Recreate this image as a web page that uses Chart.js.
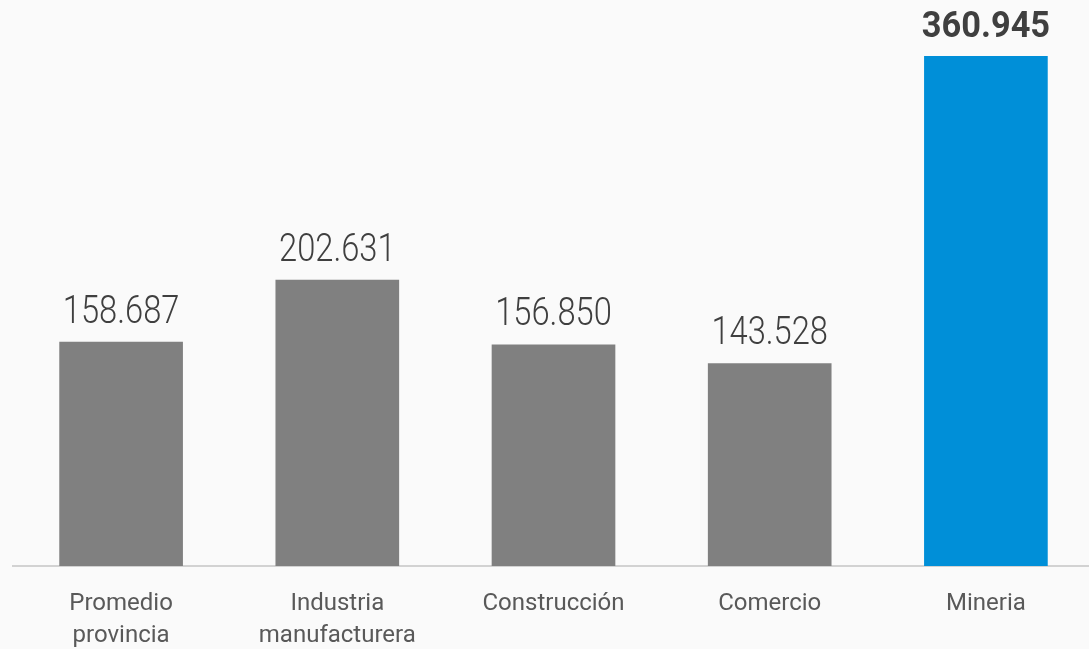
<!DOCTYPE html>
<html><head><meta charset="utf-8">
<script src="https://cdn.jsdelivr.net/npm/chart.js@4/dist/chart.umd.min.js"></script>
<style>
html,body{margin:0;padding:0;background:#fafafa;overflow:hidden;width:1089px;height:649px;}
#wrap{width:1094px;height:649px;}
</style></head><body>
<div id="wrap"><canvas id="c" width="1094" height="649"></canvas></div>
<script>
const categories = [["Promedio","provincia"],["Industria","manufacturera"],["Construcción"],["Comercio"],["Mineria"]];
const values = [158687, 202631, 156850, 143528, 360945];
const valueLabels = ["158.687","202.631","156.850","143.528","360.945"];
const barColors = ["#808080","#808080","#808080","#808080","#008fd8"];
const boldFlags = [false,false,false,false,true];

const valueLabelPlugin = {
  id:'valueLabels',
  afterDatasetsDraw(chart){
    const ctx = chart.ctx;
    const meta = chart.getDatasetMeta(0);
    meta.data.forEach((bar,i)=>{
      ctx.save();
      ctx.fillStyle = '#3f3f3f';
      ctx.font = (boldFlags[i] ? 'bold 37px Roboto' : '300 38px Roboto');
      ctx.textAlign = 'center';
      ctx.textBaseline = 'alphabetic';
      ctx.translate(bar.x, bar.y - 19);
      ctx.scale(boldFlags[i] ? 0.93 : 0.86, 1);
      ctx.fillText(valueLabels[i], 0, 0);
      ctx.restore();
    });
  }
};
const bgPlugin = {
  id:'bg',
  beforeDraw(chart){
    const ctx = chart.ctx;
    ctx.save();
    ctx.fillStyle = '#fafafa';
    ctx.fillRect(0,0,chart.width,chart.height);
    ctx.restore();
  }
};

new Chart(document.getElementById('c'), {
  type:'bar',
  data:{labels:categories, datasets:[{data:values, backgroundColor:barColors, barPercentage:0.572, categoryPercentage:1.0}]},
  options:{
    responsive:false,
    animation:false,
    devicePixelRatio:1,
    layout:{padding:{top:56,left:13,right:0,bottom:0}},
    plugins:{legend:{display:false},tooltip:{enabled:false}},
    scales:{
      x:{
        grid:{display:false},
        border:{display:true,color:'#d2d2d2',width:2},
        ticks:{color:'#595959',font:{family:'Roboto',size:24,weight:'400',lineHeight:1.32},padding:14,maxRotation:0,autoSkip:false},
        afterFit(scale){ scale.height = 83; }
      },
      y:{display:false,min:0,max:360945}
    }
  },
  plugins:[bgPlugin,valueLabelPlugin]
});
</script></body></html>
